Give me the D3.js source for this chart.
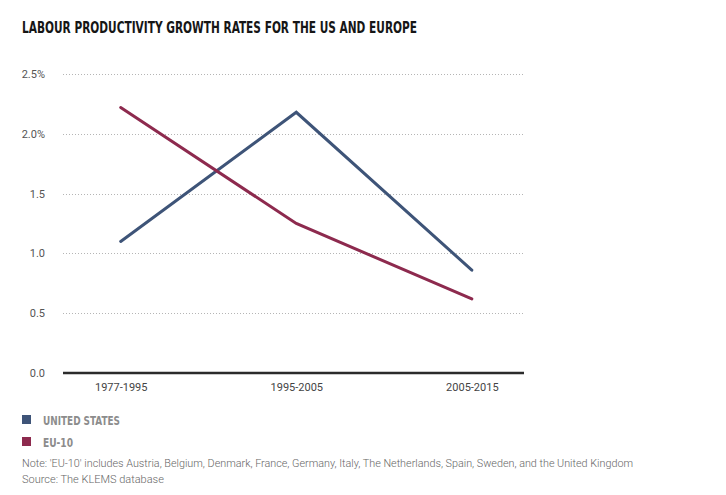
<!DOCTYPE html>
<html>
<head>
<meta charset="utf-8">
<script src="https://cdn.jsdelivr.net/npm/d3@7"></script>
<style>
  body { margin: 0; background: #fff; }
  svg { display: block; }
  .cond { font-family: "Liberation Sans Narrow", "DejaVu Sans Condensed", "Roboto", sans-serif; font-stretch: condensed; }
  .tick-label { font-family: "Roboto", sans-serif; font-size: 11px; fill: #555; }
  .note { font-family: "Roboto", sans-serif; font-weight: 300; font-size: 11px; fill: #666; }
</style>
</head>
<body>
<svg id="chart" width="726" height="495"></svg>
<script>
// data
var periods = ["1977-1995", "1995-2005", "2005-2015"];
var usValues = [1.10, 2.18, 0.86];
var euValues = [2.22, 1.25, 0.62];
var yTicks = [0, 0.5, 1.0, 1.5, 2.0, 2.5];
var yTickLabels = ["0.0", "0.5", "1.0", "1.5", "2.0%", "2.5%"];
var seriesNames = ["UNITED STATES", "EU-10"];
var seriesWidths = [77, 30];
var seriesColors = ["#3e5478", "#8d2a4e"];

var svg = d3.select("#chart");

var plotLeft = 63, plotRight = 523, plotTop = 74, plotBottom = 373;

var x = d3.scalePoint()
    .domain(periods)
    .range([plotLeft, plotRight])
    .padding(0.31)
    .align(0.53);

var y = d3.scaleLinear()
    .domain([0, 2.5])
    .range([plotBottom, plotTop]);

// title
svg.append("text")
    .attr("class", "cond")
    .attr("x", 22)
    .attr("y", 33)
    .attr("textLength", 395)
    .attr("lengthAdjust", "spacingAndGlyphs")
    .style("font-size", "15px")
    .style("font-weight", "bold")
    .style("fill", "#161616")
    .text("LABOUR PRODUCTIVITY GROWTH RATES FOR THE US AND EUROPE");

// dotted gridlines
svg.append("g")
    .selectAll("line")
    .data(yTicks.filter(function(d) { return d > 0; }))
    .join("line")
    .attr("x1", plotLeft)
    .attr("x2", plotRight)
    .attr("y1", function(d) { return Math.round(y(d)) + 0.5; })
    .attr("y2", function(d) { return Math.round(y(d)) + 0.5; })
    .attr("stroke", "#b5b5b5")
    .attr("stroke-width", 1)
    .attr("stroke-dasharray", "1,2");

// y tick labels
svg.append("g")
    .selectAll("text")
    .data(yTicks)
    .join("text")
    .attr("class", "tick-label")
    .attr("x", 45)
    .attr("y", function(d) { return y(d) + 4; })
    .attr("text-anchor", "end")
    .text(function(d, i) { return yTickLabels[i]; });

// zero baseline
svg.append("line")
    .attr("x1", plotLeft)
    .attr("x2", plotRight + 1)
    .attr("y1", y(0))
    .attr("y2", y(0))
    .attr("stroke", "#2b2b2b")
    .attr("stroke-width", 2.5);

// x axis labels
var xAxis = d3.axisBottom(x).tickSize(0).tickPadding(8);
var xg = svg.append("g")
    .attr("transform", "translate(0," + y(0) + ")")
    .call(xAxis);
xg.select(".domain").remove();
xg.selectAll("text")
    .attr("class", "tick-label")
    .style("font-size", "11px")
    .style("fill", "#444")
    .attr("dy", "0.9em");

// lines
var line = d3.line()
    .x(function(d, i) { return x(periods[i]); })
    .y(function(d) { return y(d); });

[usValues, euValues].forEach(function(values, i) {
    svg.append("path")
        .datum(values)
        .attr("d", line)
        .attr("fill", "none")
        .attr("stroke", seriesColors[i])
        .attr("stroke-width", 3)
        .attr("stroke-linejoin", "miter")
        .attr("stroke-linecap", "round");
});

// legend
var legend = svg.append("g")
    .selectAll("g")
    .data(seriesNames)
    .join("g")
    .attr("transform", function(d, i) { return "translate(22," + (415 + i * 22) + ")"; });

legend.append("rect")
    .attr("width", 9)
    .attr("height", 9)
    .attr("fill", function(d, i) { return seriesColors[i]; });

legend.append("text")
    .attr("class", "cond")
    .attr("x", 21)
    .attr("y", 9.5)
    .attr("textLength", function(d, i) { return seriesWidths[i]; })
    .attr("lengthAdjust", "spacingAndGlyphs")
    .style("font-size", "12px")
    .style("font-weight", "bold")
    .style("fill", "#8c8c8c")
    .text(function(d) { return d; });

// notes
svg.append("text")
    .attr("class", "note")
    .attr("x", 22)
    .attr("y", 467)
    .attr("textLength", 611)
    .attr("lengthAdjust", "spacingAndGlyphs")
    .text("Note: 'EU-10' includes Austria, Belgium, Denmark, France, Germany, Italy, The Netherlands, Spain, Sweden, and the United Kingdom");

svg.append("text")
    .attr("class", "note")
    .attr("x", 22)
    .attr("y", 483)
    .text("Source: The KLEMS database");
</script>
</body>
</html>
